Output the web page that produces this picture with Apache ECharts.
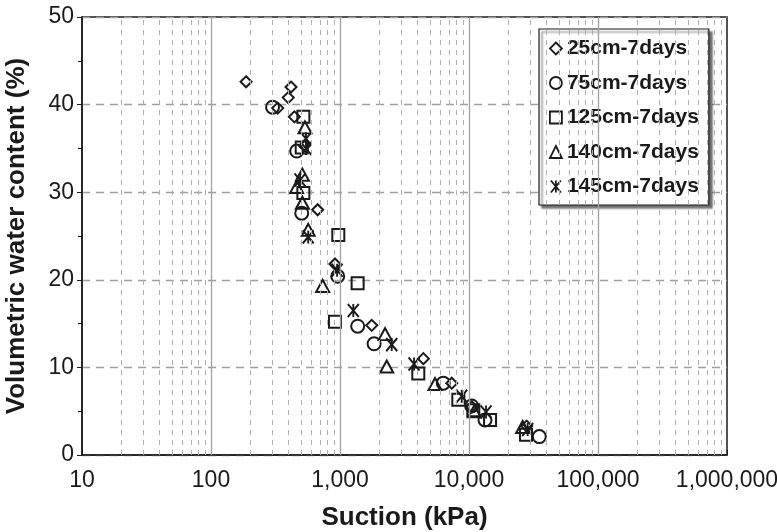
<!DOCTYPE html>
<html>
<head>
    <meta charset="utf-8">
    <title>Suction - water content</title>
    <script src="https://cdn.jsdelivr.net/npm/echarts@6/dist/echarts.min.js"></script>
    <style type="text/css">
        body { margin: 0; background: #fff; }
        #chart { width: 777px; height: 532px; }
    </style>
</head>
<body>
<div id="chart"></div>
<script>
    // suction (kPa) / volumetric water content (%)
    var names = ['25cm-7days', '75cm-7days', '125cm-7days', '140cm-7days', '145cm-7days'];

    var suction25 = [187, 417, 397, 329, 443, 530, 671, 914, 1762, 4427, 7350, 10500, 28000];
    var water25 = [42.6, 42.0, 40.8, 39.6, 38.6, 35.3, 28.0, 21.8, 14.8, 11.0, 8.2, 5.5, 3.3];

    var suction75 = [300, 462, 505, 960, 1371, 1838, 6320, 10490, 13300, 35080];
    var water75 = [39.7, 34.7, 27.6, 20.4, 14.7, 12.7, 8.2, 5.6, 4.0, 2.1];

    var suction125 = [520, 505, 520, 970, 1370, 914, 4045, 8265, 10800, 14560, 27670];
    var water125 = [38.6, 35.1, 29.9, 25.1, 19.6, 15.2, 9.3, 6.3, 5.1, 4.0, 2.3];

    var suction140 = [535, 511, 461, 511, 567, 734, 2235, 2302, 5450, 11000, 26060];
    var water140 = [37.4, 32.0, 30.6, 28.8, 25.7, 19.3, 13.8, 10.1, 8.1, 5.0, 3.2];

    var suction145 = [545, 545, 490, 567, 950, 1268, 2517, 3749, 8780, 13550, 28500];
    var water145 = [36.1, 35.0, 31.4, 24.9, 21.1, 16.5, 12.6, 10.4, 6.7, 4.9, 2.9];

    var minorLines = [20, 30, 40, 50, 60, 70, 80, 90,
        200, 300, 400, 500, 600, 700, 800, 900,
        2000, 3000, 4000, 5000, 6000, 7000, 8000, 9000,
        20000, 30000, 40000, 50000, 60000, 70000, 80000, 90000,
        200000, 300000, 400000, 500000, 600000, 700000, 800000, 900000];
    var majorLines = [100, 1000, 10000, 100000];

    function pairs(xs, ys) {
        return xs.map(function (x, i) { return [x, ys[i]]; });
    }

    function commas(v) {
        return String(Math.round(v)).replace(/\B(?=(\d{3})+(?!\d))/g, ',');
    }

    var ink = '#1a1a1a';
    var star = 'path://M0,0L10,12M10,0L0,12M5,0L5,12';
    var symbols = ['diamond', 'circle', 'rect', 'triangle', star];
    var sizes = [[11, 11], 13, 12, [13, 12], [11, 13]];
    var allData = [
        pairs(suction25, water25),
        pairs(suction75, water75),
        pairs(suction125, water125),
        pairs(suction140, water140),
        pairs(suction145, water145)
    ];

    var series = [{
        // grid lines on the log axis
        type: 'line',
        data: [],
        silent: true,
        markLine: {
            silent: true,
            symbol: 'none',
            label: {show: false},
            data: minorLines.map(function (v) {
                return {xAxis: v, lineStyle: {color: '#b0b0b0', width: 1, type: [5, 5]}};
            }).concat(majorLines.map(function (v) {
                return {xAxis: v, lineStyle: {color: '#a0a0a0', width: 1.3, type: 'solid'}};
            }))
        }
    }];

    for (var i = 0; i < names.length; i++) {
        series.push({
            name: names[i],
            type: 'scatter',
            symbol: symbols[i],
            symbolSize: sizes[i],
            data: allData[i],
            itemStyle: {
                color: 'rgba(255,255,255,0)',
                borderColor: ink,
                borderWidth: 2,
                opacity: 1
            }
        });
    }

    var chart = echarts.init(document.getElementById('chart'));
    var option = {
        backgroundColor: '#fff',
        animation: false,
        textStyle: {fontFamily: 'Arial, "Liberation Sans", sans-serif'},
        grid: {
            left: 82,
            right: 50,
            top: 17,
            bottom: 77,
            outerBoundsMode: 'none',
            containLabel: false,
            show: true,
            borderColor: ink,
            borderWidth: 1.5
        },
        legend: {
            orient: 'vertical',
            left: 539,
            top: 29,
            padding: [9, 10, 8, 10],
            itemGap: 13.5,
            itemWidth: 12,
            itemHeight: 12,
            backgroundColor: '#fff',
            borderColor: ink,
            borderWidth: 1.2,
            shadowColor: 'rgba(0,0,0,0.55)',
            shadowBlur: 2,
            shadowOffsetX: 3,
            shadowOffsetY: 3,
            data: names,
            itemStyle: {borderWidth: 1.8, opacity: 1},
            textStyle: {
                fontSize: 21,
                fontWeight: 'bold',
                color: ink,
                lineHeight: 20
            }
        },
        xAxis: {
            type: 'log',
            logBase: 10,
            min: 10,
            max: 1000000,
            name: 'Suction (kPa)',
            nameLocation: 'middle',
            nameGap: 50,
            nameTextStyle: {fontSize: 26, fontWeight: 'bold', color: ink},
            axisLine: {lineStyle: {color: ink, width: 1.5}},
            axisTick: {show: true, inside: true, length: 5, lineStyle: {color: ink}},
            axisLabel: {
                fontSize: 23,
                color: ink,
                margin: 14,
                formatter: commas
            },
            splitLine: {show: false}
        },
        yAxis: {
            type: 'value',
            min: 0,
            max: 50,
            interval: 10,
            name: 'Volumetric water content (%)',
            nameLocation: 'middle',
            nameGap: 52,
            nameTextStyle: {fontSize: 26, fontWeight: 'bold', color: ink},
            axisLine: {show: true, lineStyle: {color: ink, width: 1.5}},
            axisTick: {show: true, inside: false, length: 5, lineStyle: {color: ink}},
            minorTick: {show: true, splitNumber: 2, length: 4, lineStyle: {color: ink}},
            axisLabel: {fontSize: 23, color: ink, margin: 8},
            splitLine: {show: true, lineStyle: {color: '#a0a0a0', width: 1.3, type: [8, 6]}}
        },
        series: series
    };
    chart.setOption(option);
</script>
</body>
</html>
